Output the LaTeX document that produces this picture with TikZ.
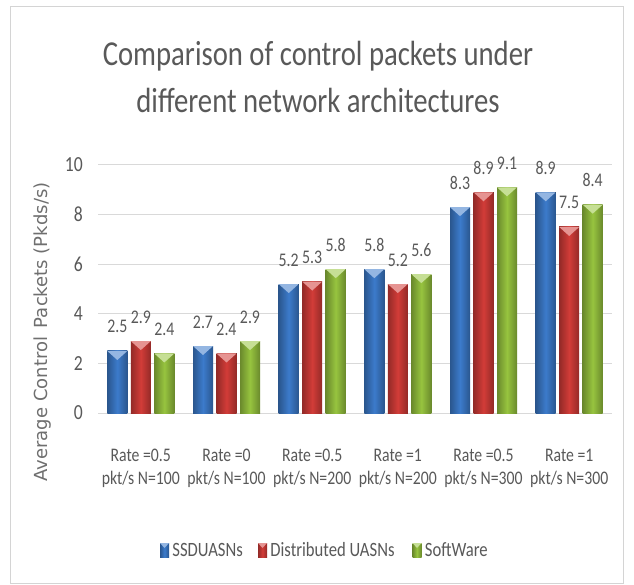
\documentclass[tikz,border=0pt]{standalone}
\usepackage{fontspec}
\newfontfamily\chartfont[FakeStretch=0.82]{Carlito}
\newfontfamily\axisfont{DejaVu Sans}
\usetikzlibrary{positioning}
\definecolor{ssdblue}{HTML}{3C7BCB}
\definecolor{distred}{HTML}{D23C38}
\definecolor{softgreen}{HTML}{97C43F}
\definecolor{labgray}{HTML}{595959}
\definecolor{axgray}{HTML}{6F6F6F}
\definecolor{gridgray}{HTML}{D9D9D9}
\definecolor{framegray}{HTML}{D4D4D4}
\tikzset{
  chartbar/.style 2 args={left color=#1!70!black, right color=#1!70!black, middle color=#1,
    path picture={\fill[#1!55!white] (path picture bounding box.north west) -- (path picture bounding box.north east) -- ([yshift=-#2]path picture bounding box.north) -- cycle;}},
  keybox/.style={minimum width=9pt, minimum height=14pt, inner sep=0pt, chartbar={#1}{5pt}},
  gridline/.style={gridgray, line width=1pt},
  val/.style={font=\chartfont\fontsize{19.3}{22}\selectfont, text=labgray, anchor=base, yshift=18pt, inner sep=0pt},
  tick/.style={font=\chartfont\fontsize{21.5}{24}\selectfont, text=labgray, anchor=east, inner sep=0pt},
  cat/.style={font=\chartfont\fontsize{19.2}{23}\selectfont, text=labgray, align=center, anchor=north, inner sep=0pt},
  legtext/.style={font=\chartfont\fontsize{20.3}{23}\selectfont, text=labgray, inner sep=0pt},
  ttl/.style={font=\chartfont\fontsize{35}{40}\selectfont, text=labgray, anchor=base, inner sep=0pt}
}
\begin{document}
\begin{tikzpicture}[x=1pt,y=1pt]
\useasboundingbox (0,0) rectangle (634,584);
\fill[white] (0,0) rectangle (634,584);
\draw[framegray, line width=1pt] (10.5,1) rectangle (623,577);

\node[ttl] (title1) at (318,518) {Comparison of control packets under};
\node[ttl] (title2) at (318,471) {different network architectures};

\node[font=\axisfont\fontsize{18}{20}\selectfont, text=axgray, rotate=90, inner sep=0pt] (ylab) at (43,252) {Average Control\, Packets (Pkds/s)};

\begin{scope}[shift={(0,171)}, y=24.8pt]
    \draw[gridline] (98,0) -- (612,0);
    \draw[gridline] (98,2) -- (612,2);
    \draw[gridline] (98,4) -- (612,4);
    \draw[gridline] (98,6) -- (612,6);
    \draw[gridline] (98,8) -- (612,8);
    \draw[gridline] (98,10) -- (612,10);

    \node[tick] (t0) at (83,0) {0};
    \node[tick] (t2) at (83,2) {2};
    \node[tick] (t4) at (83,4) {4};
    \node[tick] (t6) at (83,6) {6};
    \node[tick] (t8) at (83,8) {8};
    \node[tick] (t10) at (83,10) {10};

    \fill[chartbar={ssdblue}{9pt}] (107.3,0) rectangle (127.3,2.5);
    \fill[chartbar={ssdblue}{9pt}] (193,0) rectangle (213,2.7);
    \fill[chartbar={ssdblue}{9pt}] (278.7,0) rectangle (298.7,5.2);
    \fill[chartbar={ssdblue}{9pt}] (364.3,0) rectangle (384.3,5.8);
    \fill[chartbar={ssdblue}{9pt}] (450,0) rectangle (470,8.3);
    \fill[chartbar={ssdblue}{9pt}] (535.7,0) rectangle (555.7,8.9);

    \fill[chartbar={distred}{9pt}] (130.8,0) rectangle (150.8,2.9);
    \fill[chartbar={distred}{9pt}] (216.5,0) rectangle (236.5,2.4);
    \fill[chartbar={distred}{9pt}] (302.2,0) rectangle (322.2,5.3);
    \fill[chartbar={distred}{9pt}] (387.8,0) rectangle (407.8,5.2);
    \fill[chartbar={distred}{9pt}] (473.5,0) rectangle (493.5,8.9);
    \fill[chartbar={distred}{9pt}] (559.2,0) rectangle (579.2,7.5);

    \fill[chartbar={softgreen}{9pt}] (154.3,0) rectangle (174.3,2.4);
    \fill[chartbar={softgreen}{9pt}] (240,0) rectangle (260,2.9);
    \fill[chartbar={softgreen}{9pt}] (325.7,0) rectangle (345.7,5.8);
    \fill[chartbar={softgreen}{9pt}] (411.3,0) rectangle (431.3,5.6);
    \fill[chartbar={softgreen}{9pt}] (497,0) rectangle (517,9.1);
    \fill[chartbar={softgreen}{9pt}] (582.7,0) rectangle (602.7,8.4);

    \node[val] (s1) at (117.3,2.5) {2.5};
    \node[val] (s2) at (203,2.7) {2.7};
    \node[val] (s3) at (288.7,5.2) {5.2};
    \node[val] (s4) at (374.3,5.8) {5.8};
    \node[val] (s5) at (460,8.3) {8.3};
    \node[val] (s6) at (545.7,8.9) {8.9};

    \node[val] (d1) at (140.8,2.9) {2.9};
    \node[val] (d2) at (226.5,2.4) {2.4};
    \node[val] (d3) at (312.2,5.3) {5.3};
    \node[val] (d4) at (397.8,5.2) {5.2};
    \node[val] (d5) at (483.5,8.9) {8.9};
    \node[val] (d6) at (569.2,7.5) {7.5};

    \node[val] (w1) at (164.3,2.4) {2.4};
    \node[val] (w2) at (250,2.9) {2.9};
    \node[val] (w3) at (335.7,5.8) {5.8};
    \node[val] (w4) at (421.3,5.6) {5.6};
    \node[val] (w5) at (507,9.1) {9.1};
    \node[val] (w6) at (592.7,8.4) {8.4};
\end{scope}

\node[cat] (cat1) at (140.8,135) {Rate =0.5\\pkt/s N=100};
\node[cat] (cat2) at (226.5,135) {Rate =0\\pkt/s N=100};
\node[cat] (cat3) at (312.2,135) {Rate =0.5\\pkt/s N=200};
\node[cat] (cat4) at (397.8,135) {Rate =1\\pkt/s N=200};
\node[cat] (cat5) at (483.5,135) {Rate =0.5\\pkt/s N=300};
\node[cat] (cat6) at (569.2,135) {Rate =1\\pkt/s N=300};

\node[keybox=ssdblue] (kssd) at (164.5,34) {};
\node[legtext, right=3pt of kssd] (lssd) {SSDUASNs};
\node[keybox=distred] (kdist) at (262.5,34) {};
\node[legtext, right=3pt of kdist] (ldist) {Distributed UASNs};
\node[keybox=softgreen] (ksoft) at (417,34) {};
\node[legtext, right=3pt of ksoft] (lsoft) {SoftWare};
\end{tikzpicture}
\end{document}
